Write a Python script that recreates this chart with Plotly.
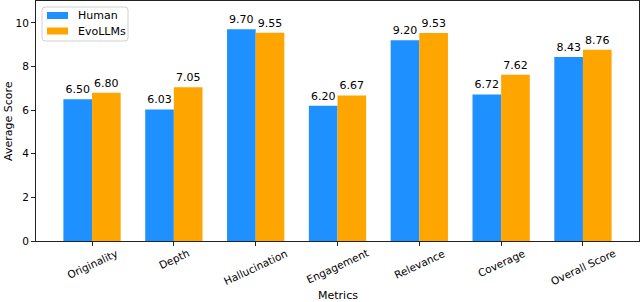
import plotly.graph_objects as go

categories = ["Originality", "Depth", "Hallucination", "Engagement", "Relevance", "Coverage", "Overall Score"]
human = [6.50, 6.03, 9.70, 6.20, 9.20, 6.72, 8.43]
evollms = [6.80, 7.05, 9.55, 6.67, 9.53, 7.62, 8.76]
y_ticks = [0, 2, 4, 6, 8, 10]

FONT = "DejaVu Sans"
BLUE = "#1E90FF"
ORANGE = "#FFA500"
xs = list(range(len(categories)))
w = 0.35

W, H = 640, 302
ML, MR, MT, MB = 36, 1, 1, 61
PW = W - ML - MR
PH = H - MT - MB


def px(x):
    return (x - ML) / PW


def py(y):
    return (H - MB - y) / PH


fig = go.Figure()
fig.add_trace(go.Bar(
    x=[x - w / 2 for x in xs], y=human, width=w, name="Human",
    marker=dict(color=BLUE, line=dict(width=0)),
    texttemplate="%{y:.2f}", textposition="outside", cliponaxis=False,
    textfont=dict(family=FONT, size=11, color="black"),
))
fig.add_trace(go.Bar(
    x=[x + w / 2 for x in xs], y=evollms, width=w, name="EvoLLMs",
    marker=dict(color=ORANGE, line=dict(width=0)),
    texttemplate="%{y:.2f}", textposition="outside", cliponaxis=False,
    textfont=dict(family=FONT, size=11, color="black"),
))

annotations = []
for i, c in enumerate(categories):
    annotations.append(dict(
        x=i, xref="x", y=0, yref="paper", yshift=-3,
        xanchor="center", yanchor="top", textangle=-25,
        text=c, showarrow=False, font=dict(family=FONT, size=10.5, color="black"),
    ))
annotations.append(dict(
    x=0.5, xref="paper", y=0, yref="paper", yshift=-54,
    xanchor="center", yanchor="middle", text="Metrics", showarrow=False,
    font=dict(family=FONT, size=11, color="black"),
))
annotations.append(dict(
    x=px(8), xref="paper", y=0.5, yref="paper",
    xanchor="center", yanchor="middle", textangle=-90, text="Average Score",
    showarrow=False, font=dict(family=FONT, size=11, color="black"),
))

# legend (matplotlib-style)
shapes = []
x0, x1, y0, y1, r = 42, 128, 7, 41, 3
path = (f"M {px(x0 + r)} {py(y0)} L {px(x1 - r)} {py(y0)} "
        f"Q {px(x1)} {py(y0)} {px(x1)} {py(y0 + r)} L {px(x1)} {py(y1 - r)} "
        f"Q {px(x1)} {py(y1)} {px(x1 - r)} {py(y1)} L {px(x0 + r)} {py(y1)} "
        f"Q {px(x0)} {py(y1)} {px(x0)} {py(y1 - r)} L {px(x0)} {py(y0 + r)} "
        f"Q {px(x0)} {py(y0)} {px(x0 + r)} {py(y0)} Z")
shapes.append(dict(type="path", xref="paper", yref="paper", path=path,
                   line=dict(color="#d0d0d0", width=1), fillcolor="rgba(255,255,255,0.8)",
                   layer="above"))
for (name, col, yc) in [("Human", BLUE, 15.5), ("EvoLLMs", ORANGE, 31)]:
    shapes.append(dict(type="rect", xref="paper", yref="paper",
                       x0=px(47), x1=px(68), y0=py(yc - 3.5), y1=py(yc + 3.5),
                       fillcolor=col, line=dict(width=0), layer="above"))
    annotations.append(dict(x=px(76), xref="paper", y=py(yc), yref="paper",
                            xanchor="left", yanchor="middle", text=name, showarrow=False,
                            font=dict(family=FONT, size=11, color="black")))

fig.update_layout(
    width=W, height=H,
    margin=dict(l=ML, r=MR, t=MT, b=MB, autoexpand=False),
    paper_bgcolor="white", plot_bgcolor="white",
    font=dict(family=FONT, size=10, color="black"),
    barmode="overlay",
    showlegend=False,
    hovermode=False,
    annotations=annotations,
    shapes=shapes,
    xaxis=dict(
        tickmode="array", tickvals=xs, showticklabels=False,
        range=[-0.685, 6.685], showgrid=False, zeroline=False,
        showline=True, linecolor="#222", linewidth=1, mirror=True,
        ticks="outside", ticklen=4, tickcolor="#222", automargin=False,
    ),
    yaxis=dict(
        range=[0, 11.0], tickvals=y_ticks, showgrid=False, zeroline=False,
        showline=True, linecolor="#222", linewidth=1, mirror=True,
        ticks="outside", ticklen=4, tickcolor="#222", automargin=False,
        tickfont=dict(size=10.5),
    ),
)

fig.write_html(
    "out.html",
    config={"displayModeBar": False, "staticPlot": True},
    post_script="document.body.style.margin='0';document.body.style.padding='0';document.body.style.overflow='hidden';",
)
